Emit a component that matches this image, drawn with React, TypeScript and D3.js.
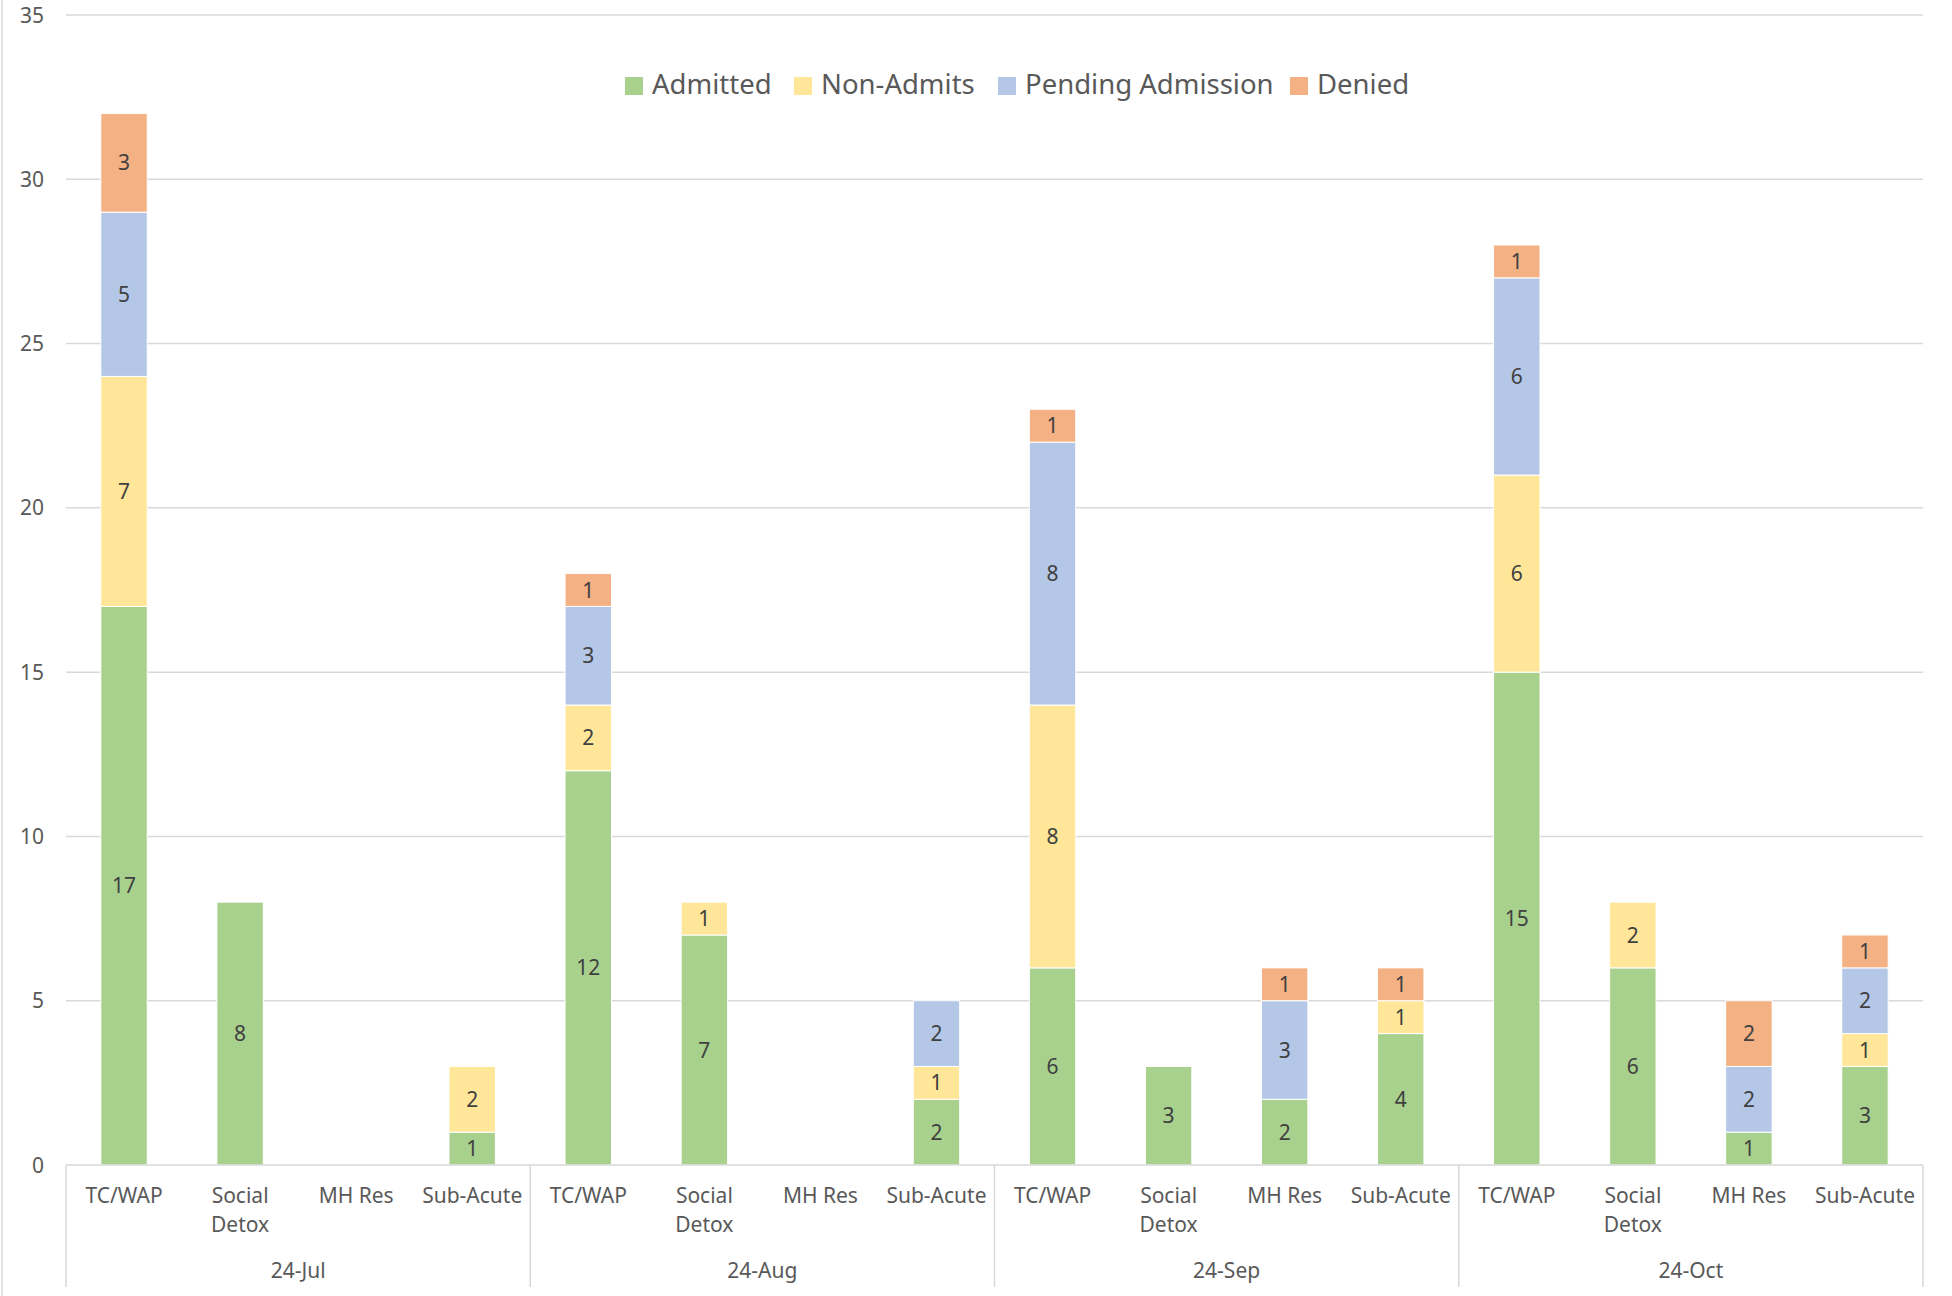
import React from "react";
import * as d3 from "d3";

// Months and programs (two-level category axis)
const months = ["24-Jul", "24-Aug", "24-Sep", "24-Oct"];
const programs = ["TC/WAP", "Social Detox", "MH Res", "Sub-Acute"];

// Series values, one entry per month × program in order
const admitted = [17, 8, 0, 1, 12, 7, 0, 2, 6, 3, 2, 4, 15, 6, 1, 3];
const nonAdmits = [7, 0, 0, 2, 2, 1, 0, 1, 8, 0, 0, 1, 6, 2, 0, 1];
const pending = [5, 0, 0, 0, 3, 0, 0, 2, 8, 0, 3, 0, 6, 0, 2, 2];
const denied = [3, 0, 0, 0, 1, 0, 0, 0, 1, 0, 1, 1, 1, 0, 2, 1];

const seriesNames = ["Admitted", "Non-Admits", "Pending Admission", "Denied"];
const seriesColors = ["#a9d18e", "#ffe699", "#b4c7e7", "#f4b183"];
const yTicks = [0, 5, 10, 15, 20, 25, 30, 35];

const W = 1952;
const H = 1296;
const left = 66;
const right = 1923;
const top = 15;
const bottom = 1165;
const FONT = "'Noto Sans', sans-serif";

export default function App() {
  const keys = months.flatMap((m) => programs.map((p) => `${m}|${p}`));
  const rows = keys.map((k, i) => ({
    key: k,
    Admitted: admitted[i],
    "Non-Admits": nonAdmits[i],
    "Pending Admission": pending[i],
    Denied: denied[i],
  }));

  const x = d3.scaleBand<string>().domain(keys).range([left, right]).paddingInner(0.6).paddingOuter(0.3);
  const y = d3.scaleLinear().domain([0, 35]).range([bottom, top]);
  const stack = d3.stack<any>().keys(seriesNames)(rows);

  const groupWidth = (right - left) / months.length;
  const legendX = [625, 794, 998, 1290];

  return (
    <svg
      width={W}
      height={H}
      style={{ position: "absolute", left: 0, top: 0, background: "#fff" }}
      fontFamily={FONT}
    >
      <rect x={0} y={0} width={W} height={H} fill="#fff" />
      <line x1={2} x2={2} y1={0} y2={H} stroke="#d9d9d9" strokeWidth={1.5} />

      {/* gridlines and value-axis labels */}
      {yTicks.map((t) => (
        <g key={t}>
          {t > 0 && (
            <line x1={left} x2={right} y1={y(t)} y2={y(t)} stroke="#d9d9d9" strokeWidth={1.5} />
          )}
          <text x={44} y={y(t)} dy="0.36em" textAnchor="end" fontSize={21} fill="#595959">
            {t}
          </text>
        </g>
      ))}

      {/* stacked bars */}
      {stack.map((layer, si) => (
        <g key={layer.key}>
          {layer.map((d, i) => {
            const v = d[1] - d[0];
            if (v <= 0) return null;
            const bx = x(keys[i])!;
            return (
              <g key={i}>
                <rect
                  x={bx}
                  y={y(d[1])}
                  width={x.bandwidth()}
                  height={y(d[0]) - y(d[1])}
                  fill={seriesColors[si]}
                  stroke="#fff"
                  strokeWidth={1}
                />
                <text
                  x={bx + x.bandwidth() / 2}
                  y={(y(d[0]) + y(d[1])) / 2}
                  dy="0.36em"
                  textAnchor="middle"
                  fontSize={21}
                  fill="#404040"
                >
                  {v}
                </text>
              </g>
            );
          })}
        </g>
      ))}

      {/* category axis */}
      <line x1={left} x2={right} y1={bottom} y2={bottom} stroke="#d9d9d9" strokeWidth={1.5} />
      {d3.range(months.length + 1).map((i) => (
        <line
          key={i}
          x1={left + i * groupWidth}
          x2={left + i * groupWidth}
          y1={bottom}
          y2={1287}
          stroke="#d9d9d9"
          strokeWidth={1.5}
        />
      ))}
      {keys.map((k) => {
        const p = k.split("|")[1];
        const cx = x(k)! + x.bandwidth() / 2;
        const lines = p === "Social Detox" ? ["Social", "Detox"] : [p];
        return (
          <text key={k} x={cx} y={1203} textAnchor="middle" fontSize={21} fill="#595959">
            {lines.map((l, li) => (
              <tspan key={li} x={cx} dy={li === 0 ? 0 : 29}>
                {l}
              </tspan>
            ))}
          </text>
        );
      })}
      {months.map((m, i) => (
        <text
          key={m}
          x={left + (i + 0.5) * groupWidth}
          y={1278}
          textAnchor="middle"
          fontSize={21}
          fill="#595959"
        >
          {m}
        </text>
      ))}

      {/* legend */}
      {seriesNames.map((s, i) => (
        <g key={s} transform={`translate(${legendX[i]},0)`}>
          <rect x={0} y={77} width={18} height={18} fill={seriesColors[i]} />
          <text x={27} y={94} fontSize={27.5} fill="#595959">
            {s}
          </text>
        </g>
      ))}
    </svg>
  );
}
